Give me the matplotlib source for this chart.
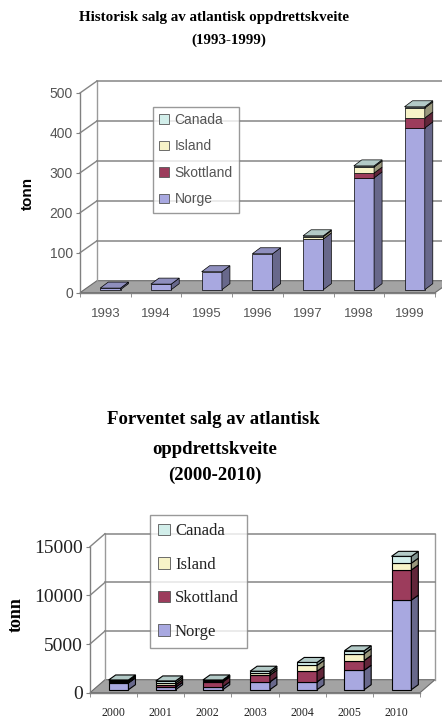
import matplotlib
matplotlib.use("Agg")
import matplotlib.pyplot as plt
from matplotlib.patches import Polygon, Rectangle, Patch
from matplotlib.colors import to_rgb
import numpy as np

# ---- data -------------------------------------------------------------
series = ["Norge", "Skottland", "Island", "Canada"]
series_colors = ["#a8a8e0", "#9c3c5c", "#f7f3c8", "#d2eeea"]

hist_years = ["1993", "1994", "1995", "1996", "1997", "1998", "1999"]
hist_norge = [4, 14, 45, 90, 127, 280, 405]
hist_skottland = [0, 0, 0, 0, 0, 12, 25]
hist_island = [0, 0, 0, 0, 6, 15, 25]
hist_canada = [0, 0, 0, 0, 2, 3, 3]

fc_years = ["2000", "2001", "2002", "2003", "2004", "2005", "2010"]
fc_norge = [700, 250, 300, 800, 800, 2000, 9200]
fc_skottland = [50, 250, 500, 700, 1100, 1000, 3100]
fc_island = [150, 200, 100, 200, 600, 700, 700]
fc_canada = [100, 200, 100, 200, 300, 300, 700]

W, H = 442, 720
fig = plt.figure(figsize=(W / 100, H / 100), dpi=100)

SANS = ["Liberation Sans", "DejaVu Sans"]
SERIF = ["Liberation Serif", "DejaVu Serif"]


def shade(c, f):
    r, g, b = to_rgb(c)
    return (r * f, g * f, b * f)


def chart(box, cats, stacks, ymax, step, wall, bar_off, depth, bw,
          font, tick_size, tick_color, xtick_size, xpad, edge_lw):
    x0, x1, ytop, ybot = box
    ax = fig.add_axes([x0 / W, 1 - ybot / H, (x1 - x0) / W, (ybot - ytop) / H])
    n = len(cats)
    ax.set_xlim(-0.5, n - 0.5)
    ax.set_ylim(0, ymax)
    ux = n / (x1 - x0)
    uy = ymax / (ybot - ytop)
    wx, wy = wall[0] * ux, wall[1] * uy
    bx, by = bar_off[0] * ux, bar_off[1] * uy
    dx, dy = depth[0] * ux, depth[1] * uy
    L, R = -0.5, n - 0.5

    # floor
    ax.add_patch(Polygon([(L, 0), (R, 0), (R + wx, wy), (L + wx, wy)], closed=True,
                         facecolor="#a3a3a3", edgecolor="#6a6a6a", lw=0.8,
                         clip_on=False, zorder=1))
    # walls and gridlines
    wall_c = "#9a9a9a"
    ax.plot([L + wx, L + wx], [wy, ymax + wy], color=wall_c, lw=1, clip_on=False, zorder=1)
    ax.plot([R + wx, R + wx], [wy, ymax + wy], color=wall_c, lw=1, clip_on=False, zorder=1)
    for v in np.arange(step, ymax + step / 2, step):
        ax.plot([L + wx, R + wx], [v + wy, v + wy], color="#858585", lw=1.1,
                clip_on=False, zorder=1)
        ax.plot([L, L + wx], [v, v + wy], color="#858585", lw=1.0, clip_on=False, zorder=1)

    # stacked 3-D style bars
    for i in range(n):
        xl = i - bw / 2 + bx
        bottom = by
        top_color = None
        for vals, col in stacks:
            v = vals[i]
            if v <= 0:
                continue
            ax.add_patch(Rectangle((xl, bottom), bw, v, facecolor=col, edgecolor="black",
                                   lw=edge_lw, clip_on=False, zorder=3))
            ax.add_patch(Polygon([(xl + bw, bottom), (xl + bw + dx, bottom + dy),
                                  (xl + bw + dx, bottom + v + dy), (xl + bw, bottom + v)],
                                 closed=True, facecolor=shade(col, 0.62), edgecolor="black",
                                 lw=edge_lw, clip_on=False, zorder=3))
            bottom += v
            top_color = col
        if top_color is not None:
            ax.add_patch(Polygon([(xl, bottom), (xl + bw, bottom), (xl + bw + dx, bottom + dy),
                                  (xl + dx, bottom + dy)], closed=True,
                                 facecolor=shade(top_color, 0.85), edgecolor="black",
                                 lw=edge_lw, clip_on=False, zorder=3))

    for s in ["top", "right"]:
        ax.spines[s].set_visible(False)
    for s in ["left", "bottom"]:
        ax.spines[s].set_color("#808080")
        ax.spines[s].set_linewidth(1.0)
    ax.patch.set_alpha(0)
    ax.set_yticks(np.arange(0, ymax + 1, step))
    ax.tick_params(axis="y", length=3, color="#808080", labelsize=tick_size,
                   labelcolor=tick_color, pad=2)
    for t in ax.get_yticklabels():
        t.set_family(font)
    ax.set_xticks(np.arange(n))
    ax.set_xticklabels(cats, family=font, fontsize=xtick_size, color=tick_color)
    ax.set_xticks(np.arange(n + 1) - 0.5, minor=True)
    ax.tick_params(axis="x", which="major", length=0, pad=xpad)
    ax.tick_params(axis="x", which="minor", length=3, color="#808080")
    return ax


# ---- historical sales ---------------------------------------------------
hist_stacks = list(zip([hist_norge, hist_skottland, hist_island, hist_canada], series_colors))
ax1 = chart((80, 435, 93, 292.7), hist_years, hist_stacks, 500, 100,
            wall=(17, 12), bar_off=(5, 3), depth=(8, 6), bw=0.4,
            font=SANS, tick_size=10, tick_color="#555555", xtick_size=9.5, xpad=11,
            edge_lw=0.5)
fig.text(214 / W, 1 - 18 / H, "Historisk salg av atlantisk oppdrettskveite",
         ha="center", va="center", family=SERIF, fontsize=10.8, fontweight="bold")
fig.text(229 / W, 1 - 40 / H, "(1993-1999)", ha="center", va="center",
         family=SERIF, fontsize=10.8, fontweight="bold")
fig.text(28 / W, 1 - 193 / H, "tonn", rotation=90, ha="center", va="center",
         family=SANS, fontsize=11, fontweight="bold")

handles = [Patch(facecolor=c, edgecolor="#555555", lw=0.6)
           for c in series_colors][::-1]
leg1 = fig.legend(handles, series[::-1], loc="upper left",
                  bbox_to_anchor=(153 / W, 1 - 106.7 / H), frameon=True, fancybox=False,
                  prop={"family": SANS, "size": 10}, labelcolor="#555555",
                  handlelength=0.7, handleheight=0.7, handletextpad=0.4,
                  labelspacing=0.9, borderpad=0.45, borderaxespad=0)
leg1.get_frame().set_edgecolor("#808080")
leg1.get_frame().set_linewidth(1.0)

# ---- forecast sales -----------------------------------------------------
fc_stacks = list(zip([fc_norge, fc_skottland, fc_island, fc_canada], series_colors))
ax2 = chart((90, 420, 546.7, 692.7), fc_years, fc_stacks, 15000, 5000,
            wall=(15, 13), bar_off=(5, 3), depth=(7, 5), bw=0.42,
            font=SERIF, tick_size=14, tick_color="#222222", xtick_size=8.5, xpad=10,
            edge_lw=0.8)
fig.text(213 / W, 1 - 420 / H, "Forventet salg av atlantisk", ha="center", va="center",
         family=SERIF, fontsize=13.5, fontweight="bold")
fig.text(215 / W, 1 - 450 / H, "oppdrettskveite", ha="center", va="center",
         family=SERIF, fontsize=13.5, fontweight="bold")
fig.text(215 / W, 1 - 475 / H, "(2000-2010)", ha="center", va="center",
         family=SERIF, fontsize=13.5, fontweight="bold")
fig.text(16 / W, 1 - 615 / H, "tonn", rotation=90, ha="center", va="center",
         family=SERIF, fontsize=13, fontweight="bold")

leg2 = fig.legend(handles, series[::-1], loc="upper left",
                  bbox_to_anchor=(150 / W, 1 - 515 / H), frameon=True, fancybox=False,
                  prop={"family": SERIF, "size": 12}, labelcolor="#222222",
                  handlelength=0.7, handleheight=0.7, handletextpad=0.3,
                  labelspacing=1.05, borderpad=0.5, borderaxespad=0)
leg2.get_frame().set_edgecolor("#808080")
leg2.get_frame().set_linewidth(1.0)

fig.savefig("out.png", dpi=100, facecolor="white")
